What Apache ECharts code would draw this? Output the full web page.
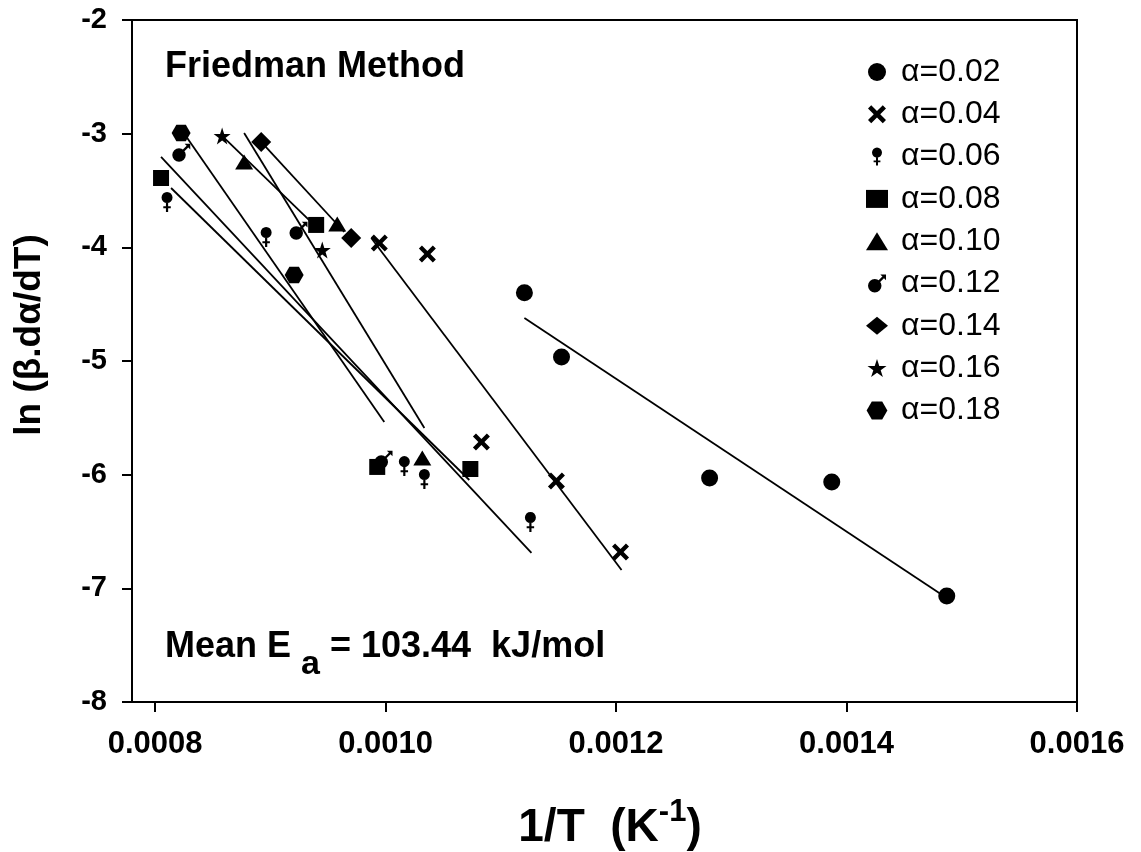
<!DOCTYPE html>
<html>
<head>
<meta charset="utf-8">
<script src="https://cdn.jsdelivr.net/npm/echarts@6/dist/echarts.min.js"></script>
<style>
  html, body { margin: 0; padding: 0; background: #fff; }
  #chart { width: 1141px; height: 852px; }
</style>
</head>
<body>
<div id="chart"></div>
<script>
// Friedman isoconversional plot: ln(beta*dalpha/dT) against 1/T for each conversion level.
const seriesNames = ['α=0.02', 'α=0.04', 'α=0.06', 'α=0.08', 'α=0.10', 'α=0.12', 'α=0.14', 'α=0.16', 'α=0.18'];

// measured points [1/T (K^-1), ln(beta*dalpha/dT)]
const a02 = [[0.0011205, -4.40], [0.0011527, -4.965], [0.0012812, -6.03], [0.0013872, -6.065], [0.001487, -7.067]];
const a04 = [[0.0009946, -3.962], [0.0010363, -4.059], [0.0010832, -5.713], [0.0011483, -6.056], [0.0012039, -6.68]];
const a06 = [[0.0008104, -3.601], [0.0008964, -3.909], [0.0010163, -5.924], [0.0010337, -6.038], [0.0011257, -6.416]];
const a08 = [[0.0008052, -3.39], [0.0009398, -3.803], [0.0009928, -5.932], [0.0010736, -5.95]];
const a10 = [[0.0008773, -3.249], [0.0009581, -3.795], [0.0010319, -5.853]];
const a12 = [[0.0008208, -3.188], [0.0009225, -3.874], [0.0009963, -5.888]];
const a14 = [[0.0008921, -3.073], [0.0009702, -3.918]];
const a16 = [[0.0008582, -3.02], [0.0009451, -4.023]];
const a18 = [[0.0008226, -2.994], [0.0009207, -4.243]];

// linear fits, given as end points
const fit02 = [[0.0011205, -4.622], [0.001487, -7.085]];
const fit04 = [[0.0009876, -3.918], [0.0012048, -6.839]];
const fit06 = [[0.0008052, -3.205], [0.0011266, -6.689]];
const fit08 = [[0.0008139, -3.478], [0.0010727, -6.047]];
const fit10 = [[0.0008773, -2.994], [0.0010337, -5.589]];
const fit14 = [[0.0008947, -3.10], [0.0009642, -3.865]];
const fit16 = [[0.0008582, -3.02], [0.0009425, -3.847]];
const fit18 = [[0.0008243, -2.985], [0.0009989, -5.537]];

const xTicks = [0.0008, 0.0010, 0.0012, 0.0014, 0.0016];

const FONT = '"Liberation Sans", Arial, Helvetica, sans-serif';

// marker shapes (round heads built from 16-sided polygons)
const SYM = {
  cross: 'path://M0,18 L18,0 L50,32 L82,0 L100,18 L68,50 L100,82 L82,100 L50,68 L18,100 L0,82 L32,50 Z',
  venus: 'path://M10,5 L9.62,6.91 L8.54,8.54 L6.91,9.62 L5,10 L3.09,9.62 L1.46,8.54 L0.38,6.91 L0,5 ' +
         'L0.38,3.09 L1.46,1.46 L3.09,0.38 L5,0 L6.91,0.38 L8.54,1.46 L9.62,3.09 Z ' +
         'M4,9 L6,9 L6,18 L4,18 Z M1.6,12.8 L8.4,12.8 L8.4,14.6 L1.6,14.6 Z',
  mars: 'path://M12,10 L11.54,12.3 L10.24,14.24 L8.3,15.54 L6,16 L3.7,15.54 L1.76,14.24 L0.46,12.3 L0,10 ' +
        'L0.46,7.7 L1.76,5.76 L3.7,4.46 L6,4 L8.3,4.46 L10.24,5.76 L11.54,7.7 Z ' +
        'M9.2,5.4 L13,1.6 L14.4,3 L10.6,6.8 Z M11,0 L16,0 L16,5 Z',
  star: 'path://M50,0 L61.8,35.3 L99,35.3 L69,57.1 L80.3,92.7 L50,70.9 L19.7,92.7 L31,57.1 L1,35.3 L38.2,35.3 Z',
  hexagon: 'path://M25,0 L75,0 L100,43.3 L75,86.6 L25,86.6 L0,43.3 Z'
};

// symbol sizes follow each shape's own proportions
const markerDefs = [
  { data: a02, symbol: 'circle', size: 17 },
  { data: a04, symbol: SYM.cross, size: [17, 17] },
  { data: a06, symbol: SYM.venus, size: [11, 20] },
  { data: a08, symbol: 'rect', size: 16 },
  { data: a10, symbol: 'triangle', size: [18, 15] },
  { data: a12, symbol: SYM.mars, size: [18, 18], offset: [2.25, -2.25] },
  { data: a14, symbol: 'diamond', size: [20, 20] },
  { data: a16, symbol: SYM.star, size: [17, 17] },
  { data: a18, symbol: SYM.hexagon, size: [19, 16.5] }
];

const fitLines = [fit02, fit04, fit06, fit08, fit10, fit14, fit16, fit18];

const series = [];
fitLines.forEach(function (f) {
  series.push({
    type: 'line', data: f, symbol: 'none', silent: true, z: 2,
    lineStyle: { color: '#000', width: 1.8 }
  });
});
markerDefs.forEach(function (m, i) {
  series.push({
    type: 'scatter', name: seriesNames[i], data: m.data,
    symbol: m.symbol, symbolSize: m.size, symbolKeepAspect: false,
    symbolOffset: m.offset || [0, 0],
    itemStyle: { color: '#000', opacity: 1 }, z: 3
  });
});

const chart = echarts.init(document.getElementById('chart'), null, { renderer: 'canvas' });
chart.setOption({
  animation: false,
  backgroundColor: '#fff',
  textStyle: { fontFamily: FONT },
  grid: {
    left: 132, right: 64, top: 20, bottom: 150,
    show: true, borderColor: '#000', borderWidth: 2,
    outerBoundsMode: 'none', containLabel: false
  },
  xAxis: {
    type: 'value', min: 0.00078, max: 0.0016,
    splitLine: { show: false },
    axisLine: { show: true, onZero: false, lineStyle: { color: '#000', width: 2 } },
    axisTick: { show: true, customValues: xTicks, length: 10, inside: false, lineStyle: { color: '#000', width: 2 } },
    axisLabel: {
      customValues: xTicks, formatter: function (v) { return v.toFixed(4); },
      fontSize: 31, fontWeight: 'bold', color: '#000', margin: 27, fontFamily: FONT
    }
  },
  yAxis: {
    type: 'value', min: -8, max: -2, interval: 1,
    splitLine: { show: false },
    axisLine: { show: true, onZero: false, lineStyle: { color: '#000', width: 2 } },
    axisTick: { show: true, length: 10, inside: false, lineStyle: { color: '#000', width: 2 } },
    axisLabel: { fontSize: 29, fontWeight: 'bold', color: '#000', margin: 25, fontFamily: FONT }
  },
  legend: {
    orient: 'vertical', left: 866, top: 56, padding: 0,
    itemGap: 10.3, itemWidth: 22, itemHeight: 18,
    selectedMode: false, symbolKeepAspect: true,
    data: seriesNames,
    textStyle: { fontSize: 32, color: '#000', lineHeight: 30, padding: [0, 0, 0, 8], fontFamily: FONT }
  },
  graphic: [
    {
      type: 'text', x: 165, y: 67, silent: true,
      style: { text: 'Friedman Method', fontSize: 36, fontWeight: 'bold', fill: '#000',
               fontFamily: FONT, align: 'left', verticalAlign: 'middle' }
    },
    {
      type: 'text', x: 165, y: 629, silent: true,
      style: {
        text: '{b|Mean E }{sub|a}{b| = 103.44  kJ/mol}',
        fill: '#000', align: 'left', verticalAlign: 'top',
        rich: {
          b: { fontSize: 36, fontWeight: 'bold', fontFamily: FONT, fill: '#000', lineHeight: 36, verticalAlign: 'top' },
          sub: { fontSize: 34, fontWeight: 'bold', fontFamily: FONT, fill: '#000', lineHeight: 53, verticalAlign: 'bottom' }
        }
      }
    },
    {
      type: 'text', x: 610, y: 797, silent: true,
      style: {
        text: '{b|1/T  (K}{sup|-1}{b|)}',
        fill: '#000', align: 'center', verticalAlign: 'top',
        rich: {
          b: { fontSize: 46, fontWeight: 'bold', fontFamily: FONT, fill: '#000', lineHeight: 54, verticalAlign: 'bottom' },
          sup: { fontSize: 31, fontWeight: 'bold', fontFamily: FONT, fill: '#000', lineHeight: 31, verticalAlign: 'top' }
        }
      }
    },
    {
      type: 'text', x: 30, y: 335, rotation: Math.PI / 2, silent: true,
      style: { text: 'ln (β.dα/dT)', fontSize: 37, fontWeight: 'bold', fill: '#000',
               fontFamily: FONT, align: 'center', verticalAlign: 'middle' }
    }
  ],
  series: series
});
</script>
</body>
</html>
